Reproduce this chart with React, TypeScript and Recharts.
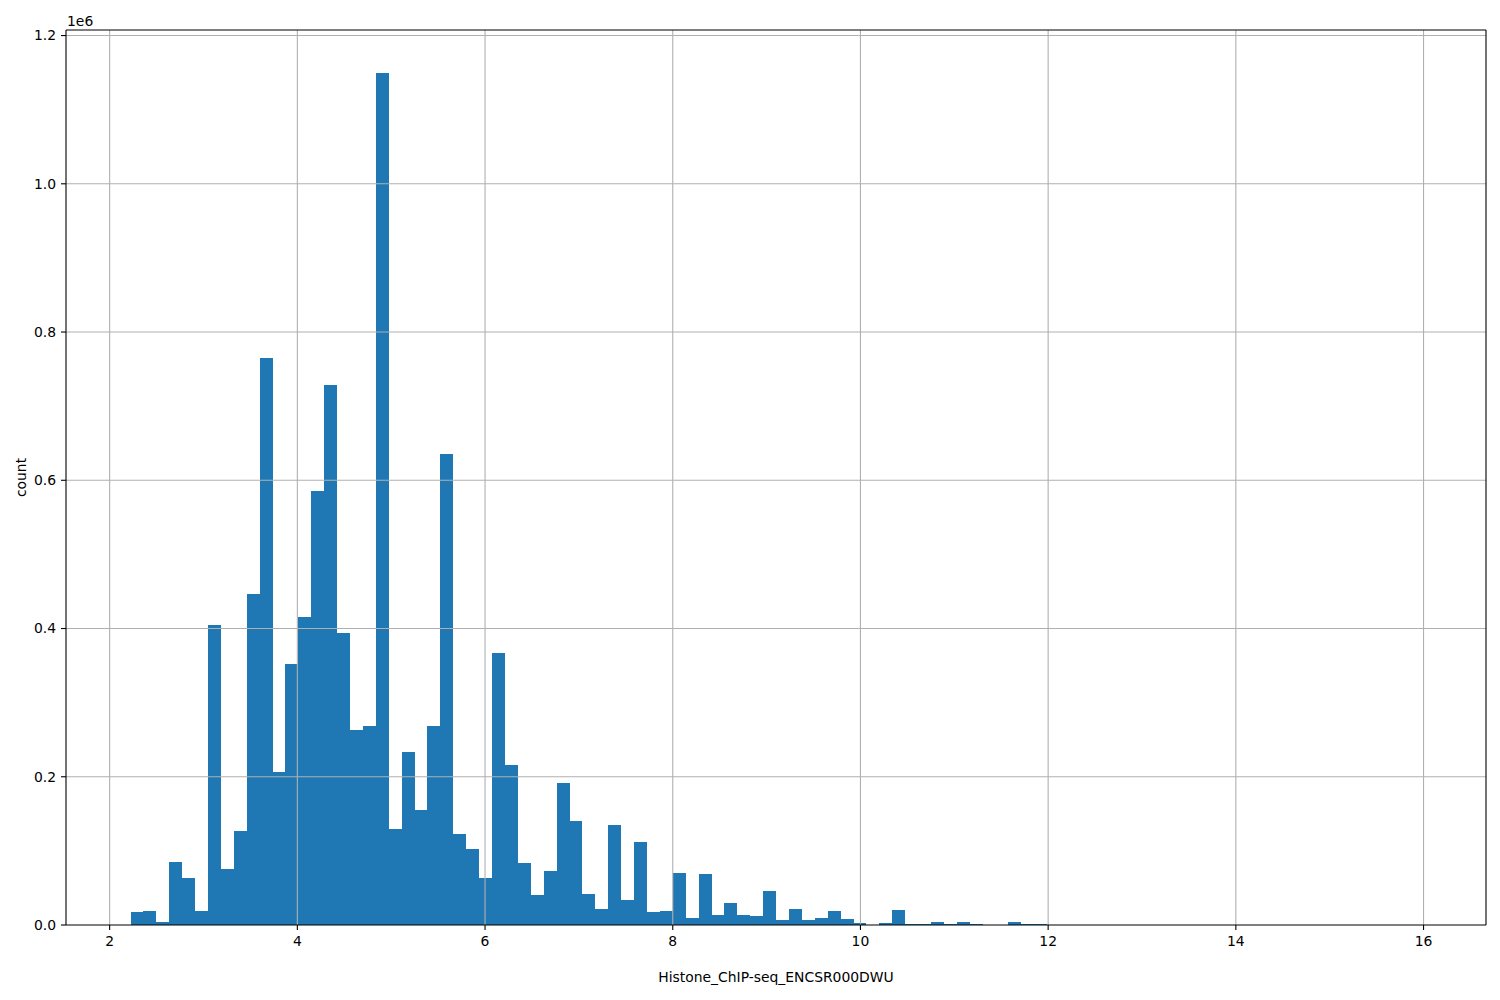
import React from 'react'
import { BarChart, Bar, XAxis, YAxis, ReferenceLine, Label } from 'recharts'

// histogram: 100 equal bins starting at binStart
const binStart = 2.2227
const binWidth = 0.13755

const counts = [
  17500, 19000, 4500, 85000, 63500, 19000, 404500, 75800, 127000, 446000,
  765000, 206000, 352000, 415000, 585000, 728000, 393500, 263000, 269000, 1150000,
  130000, 234000, 155500, 268500, 636000, 122800, 102600, 63400, 367000, 216000,
  83700, 40500, 72900, 191700, 140400, 41800, 21600, 135000, 33700, 112000,
  17500, 18900, 70200, 9400, 68800, 13500, 29700, 13500, 12200, 45900,
  6800, 21600, 6800, 9400, 18900, 8100, 2700, 0, 2700, 20300,
  1300, 1300, 4000, 1300, 4000, 1300, 0, 0, 4000, 1300,
  1300, 0, 0, 0, 0, 0, 0, 0, 0, 0,
  0, 0, 0, 0, 0, 0, 0, 0, 0, 0,
  0, 0, 0, 0, 0, 0, 0, 0, 0, 0,
]

const xTicks = [2, 4, 6, 8, 10, 12, 14, 16]
const yTicks = [0, 200000, 400000, 600000, 800000, 1000000, 1200000]

const xLabel = 'Histone_ChIP-seq_ENCSR000DWU'
const yLabel = 'count'

const FONT = 'DejaVu Sans, sans-serif'
const BLUE = '#1f77b4'
const GRID = '#b0b0b0'

const W = 1500
const H = 1000
const PLOT_LEFT = 66
const PLOT_RIGHT = 1486
const PLOT_TOP = 30
const PLOT_BOTTOM = 925
const plotWidth = PLOT_RIGHT - PLOT_LEFT

const binEnd = binStart + counts.length * binWidth
const span = binEnd - binStart
const xMin = binStart - span * 0.05
const xMax = binEnd + span * 0.05
const yMax = Math.max(...counts) * 1.05
const edgePad = (plotWidth * 0.05) / 1.1

const data = counts.map((c, i) => ({
  bin: i,
  x: binStart + (i + 0.5) * binWidth,
  count: c,
}))

const tickStyle = { fontFamily: FONT, fontSize: 13.9, fill: '#000' }

export default function App() {
  return (
    <div style={{ position: 'absolute', left: 0, top: 0, width: W, height: H, background: '#fff' }}>
      <BarChart
        width={W}
        height={H}
        data={data}
        barCategoryGap={0}
        barGap={0}
        margin={{ top: PLOT_TOP, right: W - PLOT_RIGHT, bottom: 0, left: 6 }}
      >
        <XAxis
          xAxisId="bins"
          dataKey="bin"
          hide
          padding={{ left: edgePad, right: edgePad }}
        />
        <XAxis
          type="number"
          dataKey="x"
          domain={[xMin, xMax]}
          allowDataOverflow
          ticks={xTicks}
          height={H - PLOT_BOTTOM}
          tickSize={5}
          tickMargin={6}
          tick={tickStyle}
          axisLine={{ stroke: '#000', strokeWidth: 1.1 }}
          tickLine={{ stroke: '#000', strokeWidth: 1.1 }}
        >
          <Label
            content={() => (
              <text x={(PLOT_LEFT + PLOT_RIGHT) / 2} y={982} textAnchor="middle" style={tickStyle}>
                {xLabel}
              </text>
            )}
          />
        </XAxis>
        <YAxis
          type="number"
          domain={[0, yMax]}
          allowDataOverflow
          ticks={yTicks}
          width={PLOT_LEFT - 6}
          tickSize={5}
          tickMargin={5}
          tick={tickStyle}
          tickFormatter={(v: number) => (v / 1e6).toFixed(1)}
          axisLine={{ stroke: '#000', strokeWidth: 1.1 }}
          tickLine={{ stroke: '#000', strokeWidth: 1.1 }}
        >
          <Label
            content={() => (
              <g>
                <text
                  x={21}
                  y={(PLOT_TOP + PLOT_BOTTOM) / 2}
                  textAnchor="middle"
                  dominantBaseline="central"
                  transform={`rotate(-90 21 ${(PLOT_TOP + PLOT_BOTTOM) / 2})`}
                  style={tickStyle}
                >
                  {yLabel}
                </text>
                <text x={67} y={26} style={tickStyle}>
                  1e6
                </text>
              </g>
            )}
          />
        </YAxis>
        <Bar
          xAxisId="bins"
          dataKey="count"
          fill={BLUE}
          shapeRendering="crispEdges"
          isAnimationActive={false}
        />
        {/* grid sits above the bars, like matplotlib's default */}
        {xTicks.map((t) => (
          <ReferenceLine key={`gx-${t}`} x={t} stroke={GRID} strokeWidth={1.1} />
        ))}
        {yTicks.slice(1).map((t) => (
          <ReferenceLine key={`gy-${t}`} y={t} stroke={GRID} strokeWidth={1.1} />
        ))}
        {/* top and right spines */}
        <ReferenceLine y={yMax} stroke="#000" strokeWidth={1.1} />
        <ReferenceLine x={xMax} stroke="#000" strokeWidth={1.1} />
      </BarChart>
    </div>
  )
}
